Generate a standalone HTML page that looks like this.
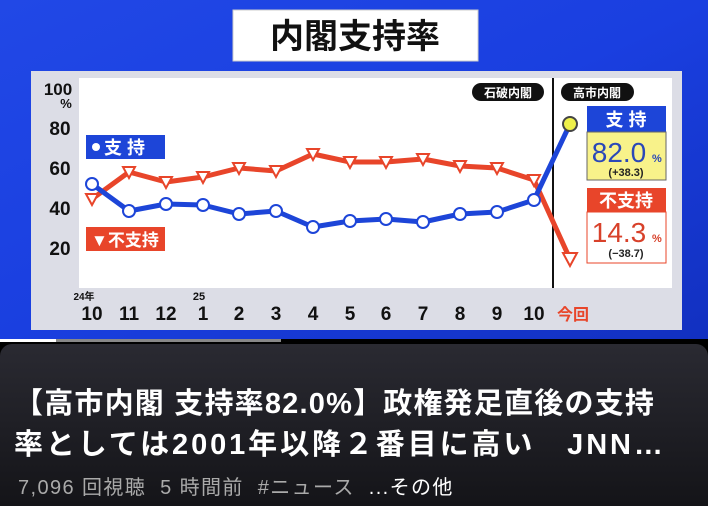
<!DOCTYPE html>
<html><head><meta charset="utf-8"><style>
html,body{margin:0;padding:0;width:708px;height:506px;overflow:hidden;background:#000;}
.f{font-family:"Liberation Sans","Noto Sans CJK JP",sans-serif;}
#bot{position:absolute;left:0;top:344px;width:708px;height:162px;background:linear-gradient(#2a2a32,#141418);border-radius:12px 12px 0 0;}
.t{position:absolute;left:14px;color:#fff;font-size:29px;font-weight:bold;white-space:nowrap;}
.m{position:absolute;left:18px;top:127px;color:#aaa;font-size:20px;white-space:nowrap;letter-spacing:1.4px}
</style></head><body>
<svg width="708" height="344" style="position:absolute;left:0;top:0" class="f">
<defs><linearGradient id="bg" x1="0" y1="0" x2="1" y2="1"><stop offset="0" stop-color="#2148e6"/><stop offset="0.5" stop-color="#1a3fe0"/><stop offset="1" stop-color="#1230c0"/></linearGradient></defs>
<rect width="708" height="341" fill="url(#bg)"/>
<rect x="0" y="339" width="708" height="5" fill="#000"/>
<rect x="0" y="339" width="56" height="3" fill="#fff"/>
<rect x="56" y="339" width="225" height="3" fill="#888"/>
<rect x="233" y="10" width="245" height="51" fill="#fff" stroke="#ccc"/>
<text x="355" y="48" text-anchor="middle" font-size="34" font-weight="bold" fill="#111">内閣支持率</text>
<rect x="31" y="71" width="651" height="259" fill="#dcdde6"/>
<rect x="79" y="78" width="593" height="210" fill="#fff"/>
<g font-size="19" font-weight="bold" fill="#111" text-anchor="middle">
<text x="58" y="95" font-size="17">100</text><text x="66" y="108" font-size="13">%</text>
<text x="60" y="135">80</text><text x="60" y="175">60</text><text x="60" y="215">40</text><text x="60" y="255">20</text>
<text x="84" y="300" font-size="10">24年</text><text x="199" y="300" font-size="11">25</text>
<text x="92" y="320">10</text><text x="129" y="320">11</text><text x="166" y="320">12</text><text x="203" y="320">1</text><text x="239" y="320">2</text><text x="276" y="320">3</text><text x="313" y="320">4</text><text x="350" y="320">5</text><text x="386" y="320">6</text><text x="423" y="320">7</text><text x="460" y="320">8</text><text x="497" y="320">9</text><text x="534" y="320">10</text>
<text x="573" y="320" fill="#e8452a" font-size="16">今回</text>
</g>
<line x1="553" y1="78" x2="553" y2="288" stroke="#111" stroke-width="2"/>
<rect x="472" y="83" width="72" height="18" rx="9" fill="#111"/><text x="508" y="97" text-anchor="middle" fill="#fff" font-size="12" font-weight="bold">石破内閣</text>
<rect x="561" y="83" width="73" height="18" rx="9" fill="#111"/><text x="597" y="97" text-anchor="middle" fill="#fff" font-size="12" font-weight="bold">高市内閣</text>
<rect x="86" y="135" width="79" height="24" fill="#1d45d8"/><circle cx="96" cy="147" r="4" fill="#fff"/><text x="104" y="154" fill="#fff" font-size="18" font-weight="bold">支 持</text>
<rect x="86" y="227" width="79" height="24" fill="#e8452a"/><text x="91" y="246" fill="#fff" font-size="17" font-weight="bold">▼不支持</text>
<polyline fill="none" stroke="#e8452a" stroke-width="5" stroke-linejoin="round" points="92,199 129,172 166,182 203,177 239,168 276,171 313,154 350,162 386,162 423,159 460,166 497,168 534,180 570,259"/>
<polyline fill="none" stroke="#1d45d8" stroke-width="5" stroke-linejoin="round" points="92,184 129,211 166,204 203,205 239,214 276,211 313,227 350,221 386,219 423,222 460,214 497,212 534,200 570,124"/>
<g fill="#fff" stroke="#e8452a" stroke-width="2">
<path d="M86,194h12l-6,11z"/><path d="M123,167h12l-6,11z"/><path d="M160,177h12l-6,11z"/><path d="M197,172h12l-6,11z"/><path d="M233,163h12l-6,11z"/><path d="M270,166h12l-6,11z"/><path d="M307,149h12l-6,11z"/><path d="M344,157h12l-6,11z"/><path d="M380,157h12l-6,11z"/><path d="M417,154h12l-6,11z"/><path d="M454,161h12l-6,11z"/><path d="M491,163h12l-6,11z"/><path d="M528,175h12l-6,11z"/><path d="M563,253h14l-7,13z"/>
</g>
<g fill="#fff" stroke="#1d45d8" stroke-width="2">
<circle cx="92" cy="184" r="6"/><circle cx="129" cy="211" r="6"/><circle cx="166" cy="204" r="6"/><circle cx="203" cy="205" r="6"/><circle cx="239" cy="214" r="6"/><circle cx="276" cy="211" r="6"/><circle cx="313" cy="227" r="6"/><circle cx="350" cy="221" r="6"/><circle cx="386" cy="219" r="6"/><circle cx="423" cy="222" r="6"/><circle cx="460" cy="214" r="6"/><circle cx="497" cy="212" r="6"/><circle cx="534" cy="200" r="6"/>
<circle cx="570" cy="124" r="7" fill="#eef04a" stroke="#444"/>
</g>
<rect x="587" y="106" width="79" height="26" fill="#1d45d8"/><text x="626" y="126" text-anchor="middle" fill="#fff" font-size="18" font-weight="bold">支 持</text>
<rect x="587" y="132" width="79" height="48" fill="#f8f28a" stroke="#666"/>
<text x="619" y="162" text-anchor="middle" fill="#2a48b8" font-size="28">82.0</text><text x="652" y="162" fill="#2a48b8" font-size="11" font-weight="bold">%</text>
<text x="626" y="176" text-anchor="middle" fill="#222" font-size="11" font-weight="bold">(+38.3)</text>
<rect x="587" y="188" width="79" height="24" fill="#e8452a"/><text x="626" y="207" text-anchor="middle" fill="#fff" font-size="18" font-weight="bold">不支持</text>
<rect x="587" y="212" width="79" height="51" fill="#fff" stroke="#e8452a"/>
<text x="619" y="242" text-anchor="middle" fill="#d8412a" font-size="28">14.3</text><text x="652" y="242" fill="#d8412a" font-size="11" font-weight="bold">%</text>
<text x="626" y="257" text-anchor="middle" fill="#222" font-size="11" font-weight="bold">(−38.7)</text>
</svg>
<div id="bot" class="f">
<div class="t" style="top:36px;letter-spacing:1.2px">【高市内閣 支持率82.0%】政権発足直後の支持</div>
<div class="t" style="top:77px;letter-spacing:2.9px">率としては2001年以降２番目に高い　JNN…</div>
<div class="m">7,096 回視聴&nbsp;&nbsp;5 時間前&nbsp;&nbsp;#ニュース&nbsp;&nbsp;<span style="color:#fff">...その他</span></div>
</div>
</body></html>
